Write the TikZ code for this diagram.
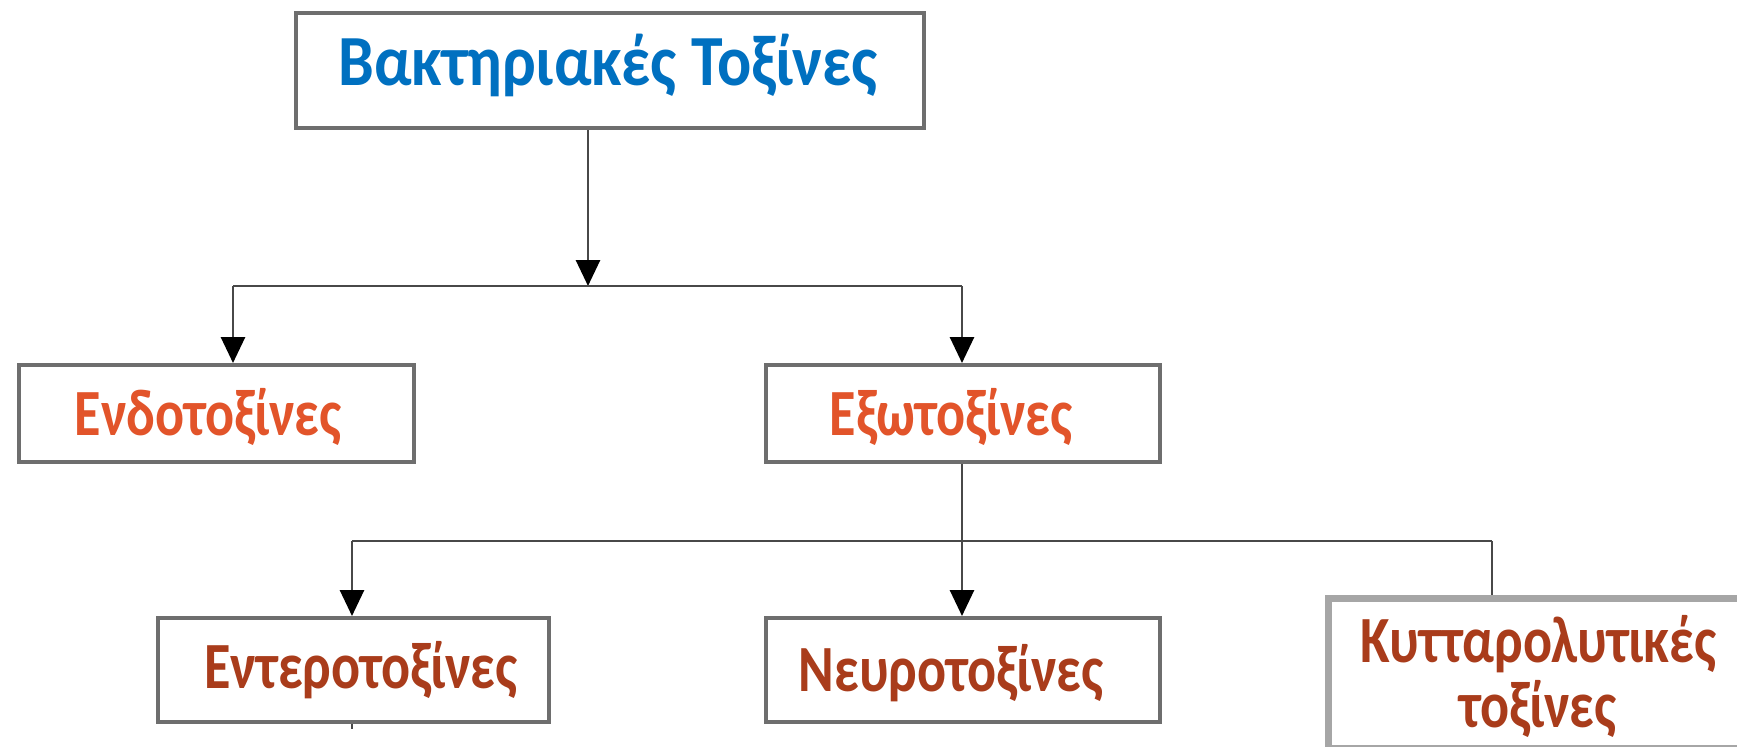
\documentclass[tikz,border=0pt]{standalone}
\usepackage{fontspec}
\setmainfont{Carlito}
\usetikzlibrary{arrows.meta}
\definecolor{titleblue}{HTML}{0070C0}
\definecolor{orangeA}{HTML}{E2542A}
\definecolor{brownA}{HTML}{A93C1B}
\definecolor{boxgray}{HTML}{6E6E6E}
\definecolor{lightgray}{HTML}{A6A6A6}
\definecolor{linegray}{HTML}{484848}
\tikzset{
  box/.style={draw=boxgray, line width=2pt, fill=white, inner sep=0pt, anchor=north west},
  lbl/.style={font=\bfseries\fontsize{33}{33}\selectfont, xscale=0.82, inner sep=0pt, align=center},
  conn/.style={draw=linegray, line width=1.4pt},
  arr/.style={conn, -{Triangle[length=13pt,width=12pt,color=black,fill=black]}},
}
\begin{document}
\begin{tikzpicture}[x=0.5pt,y=-0.5pt]
\useasboundingbox (0,0) rectangle (1737,746);
\clip (0,0) rectangle (1737,746);
% boxes
\node[box, minimum width=314pt, minimum height=57.5pt] (top) at (294,11) {};
\node[box, minimum width=197.5pt, minimum height=48.5pt] (endo) at (17,363) {};
\node[box, minimum width=197pt, minimum height=48.5pt] (exo) at (764,363) {};
\node[box, minimum width=195.5pt, minimum height=52pt] (entero) at (156,616) {};
\node[box, minimum width=197pt, minimum height=52pt] (neuro) at (764,616) {};
\node[box, draw=lightgray, line width=3.5pt, minimum width=230pt, minimum height=75pt] (kytt) at (1325,595) {};
% labels
\node[lbl, text=titleblue, font=\bfseries\fontsize{36}{36}\selectfont, xscale=1.08] (ttop) at (608,65) {Βακτηριακές Τοξίνες};
\node[lbl, text=orangeA] (tendo) at (208,417) {Ενδοτοξίνες};
\node[lbl, text=orangeA] (texo) at (951,417) {Εξωτοξίνες};
\node[lbl, text=brownA] (tentero) at (361,670) {Εντεροτοξίνες};
\node[lbl, text=brownA] (tneuro) at (951,673) {Νευροτοξίνες};
\node[lbl, text=brownA, font=\bfseries\fontsize{33}{32.5}\selectfont] (tkytt) at (1538,676) {Κυτταρολυτικές\\τοξίνες};
% connector points
\coordinate (j1) at (588,286);
\coordinate (j1l) at (233,286);
\coordinate (j1r) at (962,286);
\coordinate (j2l) at (352,541);
\coordinate (j2r) at (1492,541);
\coordinate (tick) at (352,729);
% connectors
\draw[arr] (top.south -| j1) -- (j1);
\draw[conn] (j1l) -- (j1r);
\draw[arr] (j1l) -- (endo.north -| j1l);
\draw[arr] (j1r) -- (exo.north -| j1r);
\draw[arr] (exo.south -| j1r) -- (neuro.north -| j1r);
\draw[conn] (j2l) -- (j2r);
\draw[arr] (j2l) -- (entero.north -| j2l);
\draw[conn] (j2r) -- (kytt.north -| j2r);
\draw[conn] (entero.south -| j2l) -- (tick);
\end{tikzpicture}
\end{document}
